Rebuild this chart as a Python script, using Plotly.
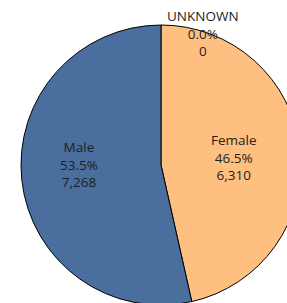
import plotly.graph_objects as go

labels = ["UNKNOWN", "Female", "Male"]
values = [0, 6310, 7268]
colors = ["#A5A5A5", "#FFBF80", "#4A6E9D"]

# label anchor positions (paper coordinates) - layout only
label_pos = {"UNKNOWN": (0.65, 0.970), "Female": (0.762, 0.526), "Male": (0.207, 0.501)}

total = sum(values)
pcts = [v / total * 100 for v in values]

fig = go.Figure(go.Pie(
    labels=labels, values=values, sort=False, direction="clockwise", rotation=0,
    marker=dict(colors=colors, line=dict(color="#000000", width=1)),
    textinfo="none",
    showlegend=False, hoverinfo="skip",
))

for l, v, p in zip(labels, values, pcts):
    x, y = label_pos[l]
    fig.add_annotation(text=f"{l}<br>{p:.1f}%<br>{v:,}", x=x, y=y,
                       xref="paper", yref="paper", showarrow=False,
                       xanchor="center", yanchor="middle",
                       font=dict(family="Open Sans", size=13.5, color="#1e1e1e"))

fig.update_layout(
    width=305, height=310, autosize=False,
    margin=dict(l=21, r=4, t=25, b=5),
    paper_bgcolor="white", plot_bgcolor="white",
)
fig.write_html("out.html", config={"displayModeBar": False},
               post_script="document.body.style.margin='0';document.body.style.overflow='hidden';")
